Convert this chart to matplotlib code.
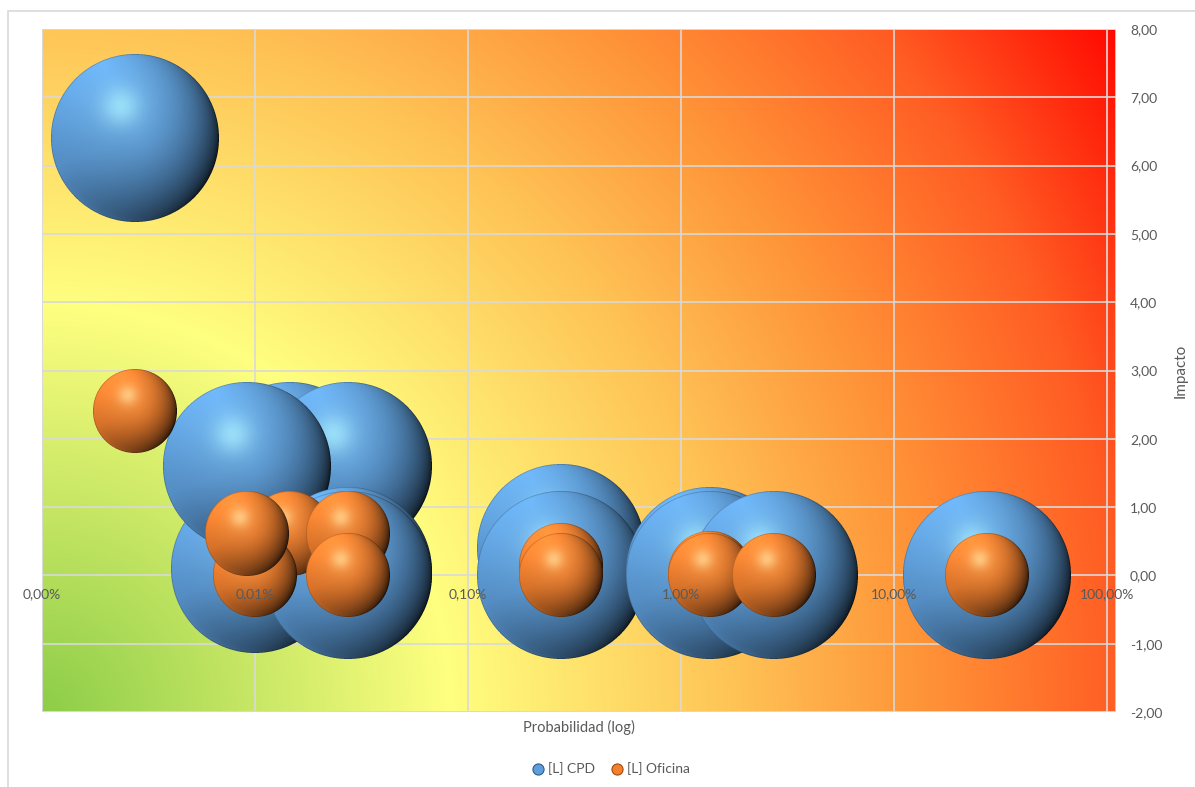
import numpy as np
import matplotlib
matplotlib.use("Agg")
import matplotlib.pyplot as plt
from matplotlib.offsetbox import OffsetImage, AnnotationBbox
from matplotlib.lines import Line2D
from matplotlib.ticker import FixedLocator, FuncFormatter, NullLocator
from matplotlib.patches import Rectangle

# ---------------- data ----------------
series_names = ["[L] CPD", "[L] Oficina"]

# probability (fraction), impact, bubble size -- listed in drawing order
cpd_prob = [2.74e-5, 1.46e-4, 2.74e-4, 1.00e-4, 9.13e-5, 2.74e-4, 2.74e-4,
            2.74e-3, 2.74e-3, 1.37e-2, 1.37e-2, 2.74e-2, 2.74e-1]
cpd_impact = [6.40, 1.60, 1.60, 0.10, 1.60, 0.07, 0.00,
              0.40, 0.00, 0.07, 0.00, 0.00, 0.00]
cpd_size = [4, 4, 4, 4, 4, 4, 4, 4, 4, 4, 4, 4, 4]

ofi_prob = [2.74e-5, 1.46e-4, 1.00e-4, 9.13e-5, 2.74e-4, 2.74e-4,
            2.74e-3, 2.74e-3, 1.37e-2, 1.37e-2, 2.74e-2, 2.74e-1]
ofi_impact = [2.40, 0.60, 0.00, 0.60, 0.60, 0.00,
              0.15, 0.00, 0.03, 0.00, 0.00, 0.00]
ofi_size = [1, 1, 1, 1, 1, 1, 1, 1, 1, 1, 1, 1]

x_ticks = [1e-5, 1e-4, 1e-3, 1e-2, 1e-1, 1.0]
y_ticks = [-2, -1, 0, 1, 2, 3, 4, 5, 6, 7, 8]
x_label = "Probabilidad (log)"
y_label = "Impacto"

# ---------------- styling ----------------
W, H, DPI = 1195, 787, 100
TEXT_COL = "#595959"
GRID_COL = "#D9D9D9"
FONT = ["Lato", "DejaVu Sans"]
plt.rcParams["font.family"] = FONT

BLUE = (0.37, 0.62, 0.86)
BLUE_HL = (0.66, 0.93, 1.00)
ORANGE = (0.95, 0.50, 0.18)
ORANGE_HL = (1.00, 0.85, 0.58)


def sphere_rgba(diam, base, hl, ss=4):
    """Shaded glossy sphere image (RGBA) of the given pixel diameter."""
    n = max(int(round(diam)), 2)
    N = n * ss
    c = (np.arange(N) + 0.5) / N * 2 - 1
    X, Y = np.meshgrid(c, -c)
    R2 = X ** 2 + Y ** 2
    R = np.sqrt(R2)
    Z = np.sqrt(np.clip(1 - R2, 0, None))
    # vertical body shading: lighter on top, darker towards the lower half
    body = 0.95 + 0.22 * Y
    # dark crescent along the right / lower-right rim
    rdir = (X * 0.92 - Y * 0.40) / np.maximum(R, 1e-6)
    edge = (1 - Z) ** 0.85 * np.clip(0.42 + 0.58 * rdir, 0, 1)
    shade = body * (1 - 0.95 * edge)
    # soft reflected light along the bottom rim
    rim = np.clip(-Y, 0, 1) ** 2 * (1 - Z) ** 2.5 * 0.40
    shade = shade + rim * np.clip(0.6 - 0.6 * X, 0, 1)
    rgb = np.asarray(base)[None, None, :] * shade[..., None]
    # specular highlight towards the upper left
    hx, hy = -0.17, 0.38
    d2 = (X - hx) ** 2 + (Y - hy) ** 2
    s = np.exp(-d2 / (2 * 0.16 ** 2)) * 0.60 + np.exp(-d2 / (2 * 0.40 ** 2)) * 0.18
    s = np.clip(s, 0, 1)
    rgb = rgb * (1 - s[..., None]) + np.asarray(hl)[None, None, :] * s[..., None]
    # thin darker outline
    ring = np.clip((R - (1 - 2.4 / n)) / (2.4 / n), 0, 1)
    rgb = rgb * (1 - 0.30 * ring[..., None])
    rgb = np.clip(rgb, 0, 1)
    a = (R2 <= 1).astype(float)
    pre = rgb * a[..., None]
    pre = pre.reshape(n, ss, n, ss, 3).mean(axis=(1, 3))
    a = a.reshape(n, ss, n, ss).mean(axis=(1, 3))
    out = np.zeros((n, n, 4))
    nz = a > 0
    out[nz, :3] = pre[nz] / a[nz, None]
    out[..., 3] = a
    return out


# ---------------- figure ----------------
fig = plt.figure(figsize=(W / DPI, H / DPI), dpi=DPI)
fig.patch.set_facecolor("white")

# chart border
fig.add_artist(Rectangle((7.5 / W, -0.05), 1.2, 1.05 - 10.5 / H,
                         transform=fig.transFigure, fill=False,
                         edgecolor=GRID_COL, lw=1.2))

PL, PR, PT, PB = 42, 1116, 29, 712
pos = [PL / W, 1 - PB / H, (PR - PL) / W, (PB - PT) / H]

# background gradient (radial from lower-left corner)
bg = fig.add_axes(pos, zorder=0)
gw, gh = PR - PL, PB - PT
gx = np.arange(gw)[None, :]
gy = (gh - 1 - np.arange(gh))[:, None]
dist = np.sqrt(gx ** 2 + gy ** 2) / np.hypot(gw, gh)
stops = [0.00, 0.32, 0.54, 0.70, 0.85, 1.00]
cols = np.array([(140, 205, 72), (255, 255, 128), (254, 196, 86),
                 (255, 145, 55), (255, 92, 35), (255, 8, 0)]) / 255
grad = np.stack([np.interp(dist, stops, cols[:, k]) for k in range(3)], axis=-1)
bg.imshow(grad, extent=[0, 1, 0, 1], aspect="auto", interpolation="bilinear")
bg.set_axis_off()

ax = fig.add_axes(pos, zorder=1)
ax.set_facecolor("none")
ax.set_xscale("log")
ax.set_xlim(1e-5, 10 ** (9 / 213))
ax.set_ylim(y_ticks[0], y_ticks[-1])

for sp in ax.spines.values():
    sp.set_visible(False)
ax.spines["bottom"].set_position(("data", 0))
ax.add_patch(Rectangle((0, 0), 1, 1, transform=ax.transAxes, fill=False,
                       edgecolor=GRID_COL, lw=1.2, zorder=1))

# grid lines behind the bubbles
ax.vlines(x_ticks, y_ticks[0], y_ticks[-1], colors=GRID_COL, lw=1.2, zorder=1)
ax.hlines(y_ticks, 1e-5, 10 ** (9 / 213), colors=GRID_COL, lw=1.2, zorder=1)

ax.xaxis.set_major_locator(FixedLocator(x_ticks))
ax.xaxis.set_minor_locator(NullLocator())
ax.xaxis.set_major_formatter(FuncFormatter(
    lambda v, p: f"{v * 100:.2f}%".replace(".", ",")))
ax.yaxis.set_major_locator(FixedLocator(y_ticks))
ax.yaxis.set_major_formatter(FuncFormatter(
    lambda v, p: f"{v:.2f}".replace(".", ",")))
ax.yaxis.tick_right()
ax.yaxis.set_label_position("right")
ax.tick_params(axis="x", length=0, pad=9, labelsize=10, labelcolor=TEXT_COL)
ax.tick_params(axis="y", length=0, pad=10, labelsize=10, labelcolor=TEXT_COL)
ax.xaxis.set_zorder(50)

ax.set_ylabel(y_label, color=TEXT_COL, fontsize=11, labelpad=8)
ax.set_xlabel(x_label, color=TEXT_COL, fontsize=10.5)
ax.xaxis.set_label_coords(0.5, -0.011)

# bubbles
plot_h_px = PB - PT
max_diam = 0.246 * plot_h_px
max_size = max(max(cpd_size), max(ofi_size))

z = 5
for probs, imps, sizes, base, hl in [
        (cpd_prob, cpd_impact, cpd_size, BLUE, BLUE_HL),
        (ofi_prob, ofi_impact, ofi_size, ORANGE, ORANGE_HL)]:
    for xv, yv, sv in zip(probs, imps, sizes):
        d = max_diam * np.sqrt(sv / max_size)
        img = OffsetImage(sphere_rgba(d, base, hl), zoom=1, dpi_cor=False)
        ab = AnnotationBbox(img, (xv, yv), xycoords="data", frameon=False,
                            pad=0, box_alignment=(0.5, 0.5), zorder=z)
        ab.set_clip_on(False)
        ax.add_artist(ab)
        z += 0.01

# legend
handles = [Line2D([], [], ls="", marker="o", markersize=8,
                  markerfacecolor=BLUE, markeredgecolor="#2E5C8A", mew=0.8),
           Line2D([], [], ls="", marker="o", markersize=8,
                  markerfacecolor=ORANGE, markeredgecolor="#A04A12", mew=0.8)]
fig.legend(handles, series_names, loc="center",
           bbox_to_anchor=(611 / W, 1 - 769 / H), ncol=2, frameon=False,
           fontsize=10, labelcolor=TEXT_COL, handlelength=0.8,
           handletextpad=0.3, columnspacing=1.2)

fig.savefig("out.png", dpi=DPI, facecolor="white")
